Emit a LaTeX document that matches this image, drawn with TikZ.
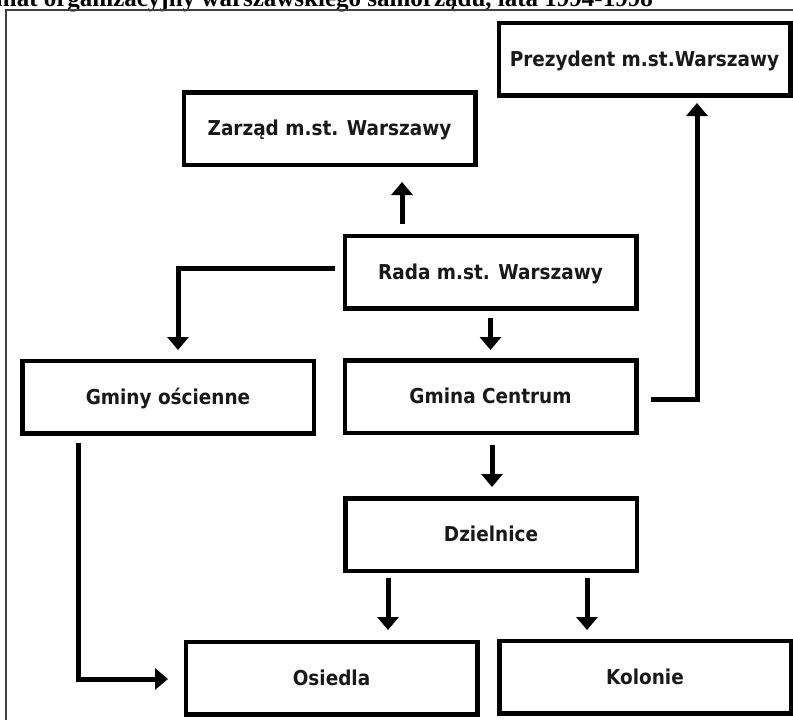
\documentclass[tikz,border=0pt]{standalone}
\usepackage{fontspec}
\setmainfont{Liberation Serif}
\newfontfamily\boxfont{DejaVu Sans Condensed}
\usetikzlibrary{arrows.meta,calc}
\begin{document}
\begin{tikzpicture}[x=1pt,y=-1pt,
  unit/.style={draw=black, line width=4.5pt, minimum width=291.5pt,
    minimum height=72.5pt, inner sep=0pt,
    font=\boxfont\bfseries\fontsize{20.5}{23}\selectfont,
    text height=14.9pt, text depth=0pt, text=black!90},
  link/.style={line width=5pt, -{Triangle[width=21pt,length=13pt]}},
  frame/.style={draw=black!75, line width=1.4pt}]

\useasboundingbox (0,0) rectangle (793,720);
\clip (0,0) rectangle (793,720);

% heading (partly cut by the page edge)
\node[anchor=base east, inner sep=0pt,
      font=\bfseries\fontsize{25}{28}\selectfont] (title) at (653,6)
  {Schemat organizacyjny warszawskiego samorządu, lata 1994-1998};

% outer frame
\draw[frame] (6,10) rectangle (805,735);

% organisational units
\node[unit] (prez)    at (644.5,59)   {Prezydent m.st.Warszawy};
\node[unit] (zarzad)  at (329.5,128.5) {Zarząd m.st. Warszawy};
\node[unit] (rada)    at (490.5,272)  {Rada m.st. Warszawy};
\node[unit] (gminy)   at (168,397)    {Gminy ościenne};
\node[unit] (centrum) at (490.5,396.5) {Gmina Centrum};
\node[unit] (dziel)   at (491,534.5)  {Dzielnice};
\node[unit] (osiedla) at (331.5,678)  {Osiedla};
\node[unit] (kolonie) at (645,677)    {Kolonie};

% connector end points
\coordinate (r1) at ($(rada)+(-88.5,-48)$);
\coordinate (z1) at ($(zarzad)+(72.5,53.5)$);
\coordinate (r2) at ($(rada)+(-155.5,-4)$);
\coordinate (g1) at ($(gminy)+(10,-47)$);
\coordinate (r3) at ($(rada)+(0,46)$);
\coordinate (c1) at ($(centrum)+(0,-46.5)$);
\coordinate (c2) at ($(centrum)+(160.5,2.5)$);
\coordinate (p1) at ($(prez)+(52.5,44)$);
\coordinate (c3) at ($(centrum)+(1.5,48.5)$);
\coordinate (d1) at ($(dziel)+(1,-47.5)$);
\coordinate (d2) at ($(dziel)+(-103,43.5)$);
\coordinate (o1) at ($(osiedla)+(56.5,-48)$);
\coordinate (d3) at ($(dziel)+(96,43.5)$);
\coordinate (k1) at ($(kolonie)+(-58,-47)$);
\coordinate (g2) at ($(gminy)+(-90,46)$);
\coordinate (o2) at ($(osiedla)+(-163.5,1)$);

% connectors
\draw[link] (r1) -- (z1);
\draw[link] (r2) -| (g1);
\draw[link] (r3) -- (c1);
\draw[link] (c2) -| (p1);
\draw[link] (c3) -- (d1);
\draw[link] (d2) -- (o1);
\draw[link] (d3) -- (k1);
\draw[link] (g2) |- (o2);
\end{tikzpicture}
\end{document}
